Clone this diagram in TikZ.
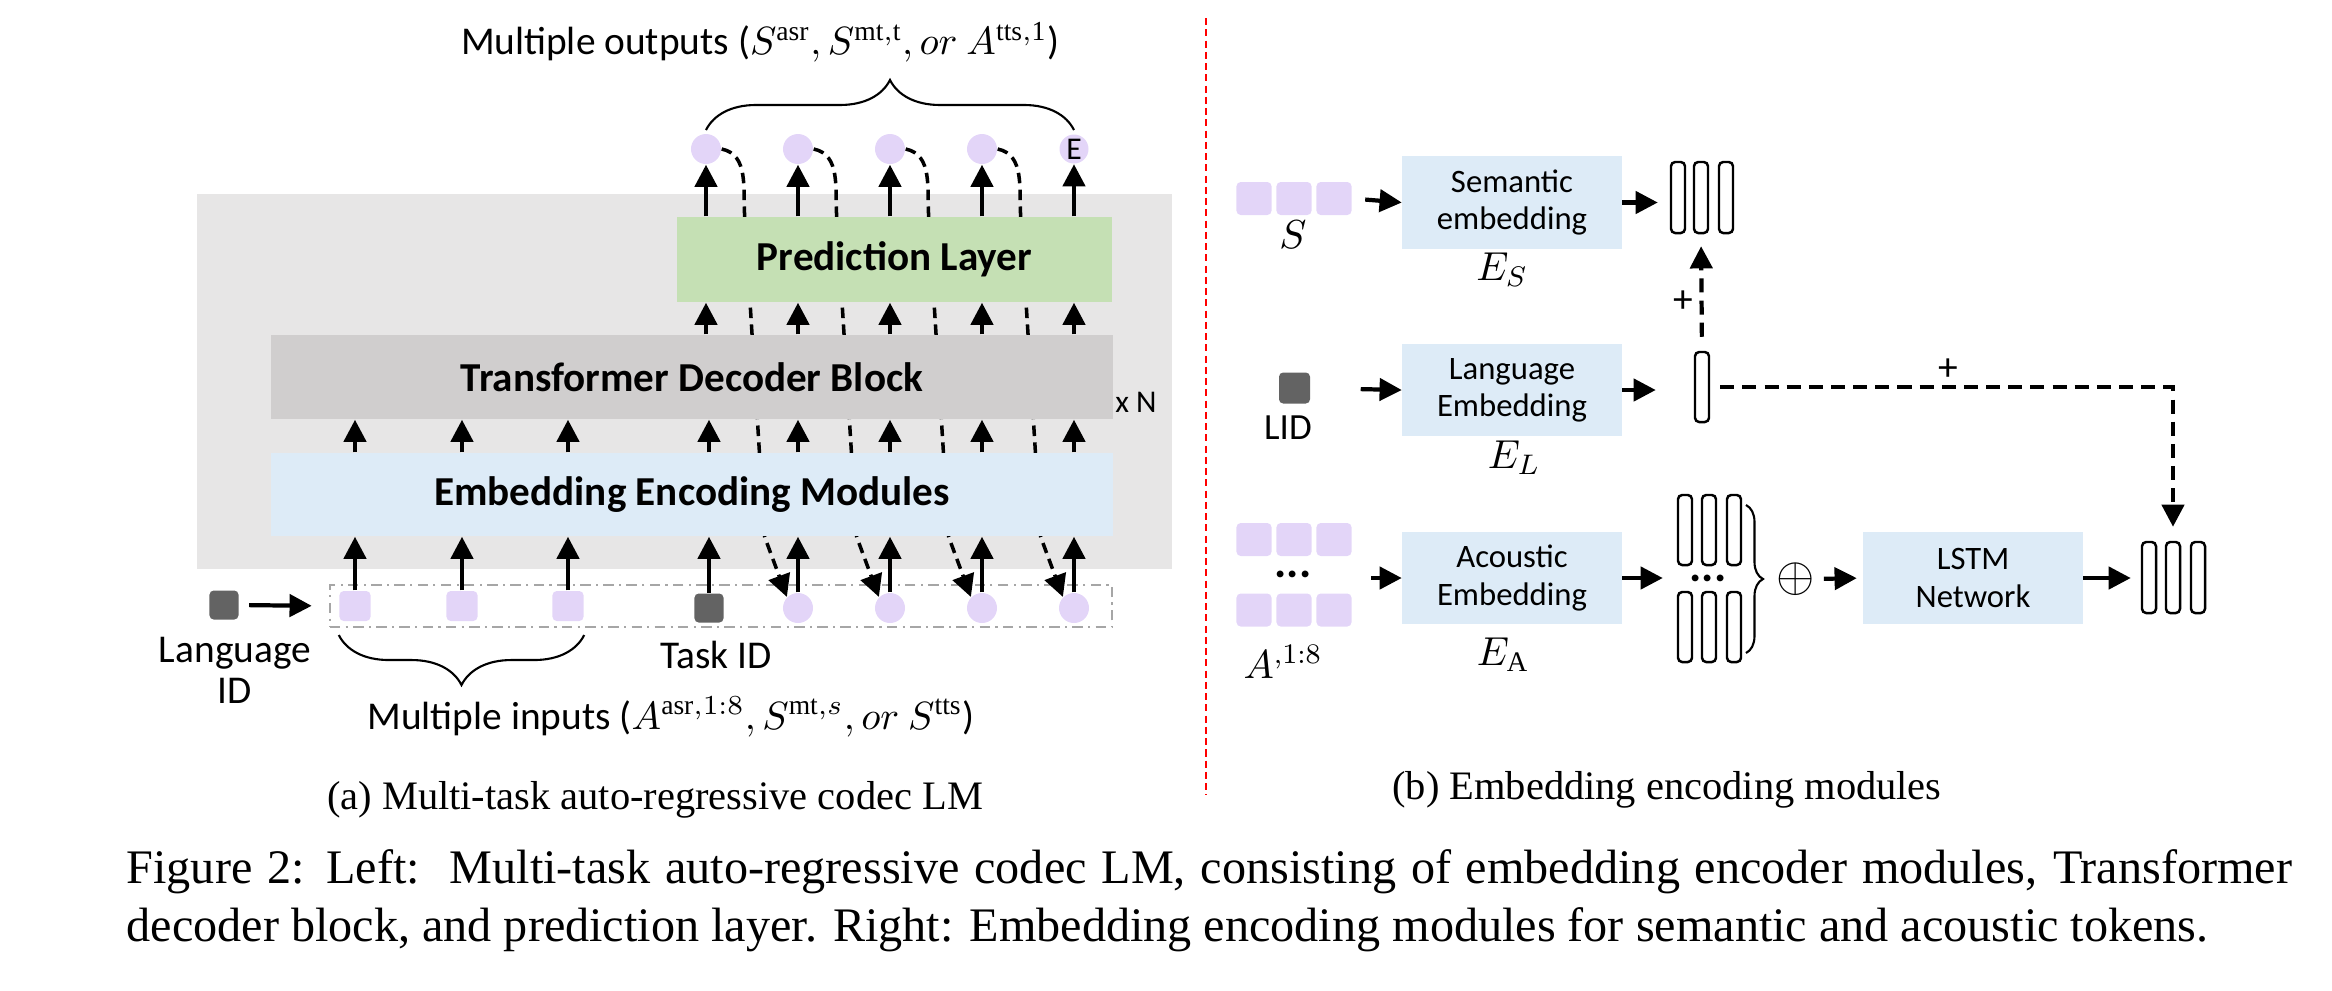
\RequirePackage{fix-cm}
\documentclass[tikz,border=0pt]{standalone}
\usepackage{fontspec}
\setmainfont{Liberation Serif}
\newfontfamily\diagfont{Carlito}
\usetikzlibrary{arrows.meta,decorations.pathreplacing}
\definecolor{tokpurple}{HTML}{E3D5F8}
\definecolor{iddark}{HTML}{636363}
\definecolor{bggrey}{HTML}{E7E6E6}
\definecolor{predgreen}{HTML}{C5E0B4}
\definecolor{decgrey}{HTML}{D0CECE}
\definecolor{embblue}{HTML}{DDEBF7}
\definecolor{boxline}{HTML}{A6A6A6}

\begin{document}
\begin{tikzpicture}[x=0.01cm, y=-0.01cm,
	arr/.style={-{Triangle[length=6.3pt,width=6.3pt]}, line width=1.2pt},
	fb/.style={-{Triangle[length=6.3pt,width=6.3pt]}, line width=1pt, dash pattern=on 3pt off 1.8pt},
	dsh/.style={dash pattern=on 4pt off 2.3pt},
	layerbox/.style={fill=#1, minimum height=0.84cm, inner sep=0pt, font=\diagfont\bfseries\fontsize{11.7}{14}\selectfont},
	tok/.style={fill=tokpurple, rounded corners=1.2pt, minimum width=0.31cm, minimum height=0.30cm, inner sep=0pt},
	idtok/.style={fill=iddark, rounded corners=1.2pt, minimum size=0.29cm, inner sep=0pt},
	ctok/.style={circle, fill=tokpurple, minimum size=0.30cm, inner sep=0pt},
	lbl/.style={font=\diagfont\fontsize{11.2}{11.7}\selectfont, inner sep=0pt, align=center},
	mlbl/.style={font=\fontsize{11.5}{13}\selectfont, inner sep=0pt},
	embox/.style={fill=embblue, minimum width=2.19cm, minimum height=0.92cm, align=center, inner sep=0pt, font=\diagfont\fontsize{9.3}{10.6}\selectfont},
	vec/.style={draw, line width=0.7pt, rounded corners=1.2pt, minimum width=0.14cm, minimum height=0.70cm, inner sep=0pt},
	capfont/.style={font=\fontsize{13.7}{16}\selectfont, inner sep=0pt}]
\useasboundingbox (0,0) rectangle (2332,990);

%% (a) multi-task codec LM
\fill[bggrey] (197,194) rectangle (1172,569);
\foreach \k/\x in {0/706,1/798,2/890,3/982}
	\node[ctok] (out\k) at (\x,149) {};
\node[ctok, minimum size=0.29cm, font=\diagfont\fontsize{9}{9}\selectfont] (out4) at (1074,149) {E};
\node[draw=boxline, line width=0.6pt, dash pattern=on 3pt off 1.5pt on 0.6pt off 1.5pt, minimum width=7.82cm, minimum height=0.42cm, inner sep=0pt] (inbox) at (721,606) {};
\node[idtok] (lid) at (224,605) {};
\foreach \k/\x in {1/355,2/462,3/568}
	\node[tok] (sq\k) at (\x,606) {};
\node[idtok] (task) at (709,608) {};
\foreach \k/\x in {1/798,2/890,3/982,4/1074}
	\node[ctok] (in\k) at (\x,608) {};
% fed back outputs (behind the blocks)
\foreach \k/\j in {0/1,1/2,2/3,3/4}
	\draw[fb] (out\k.east) to[out=-12, in=94] ++(23,68) -- ++(20,320) -- (in\j.135);

\node[layerbox=predgreen, minimum width=4.35cm, minimum height=0.85cm] (pred) at (894.5,259.5) {Prediction Layer};
\node[layerbox=decgrey, minimum width=8.42cm] (dec) at (692,377) {Transformer Decoder Block};
\node[layerbox=embblue, minimum width=8.42cm, minimum height=0.83cm] (emb) at (692,494.5) {Embedding Encoding Modules};

\foreach \n in {sq1,sq2,sq3,task,in1,in2,in3,in4}{
	\draw[arr] (\n.north) -- (\n.north |- emb.south);
	\draw[arr] (emb.north -| \n) -- (dec.south -| \n);
}
\foreach \n in {out0,out1,out2,out3,out4}{
	\draw[arr] (dec.north -| \n) -- (pred.south -| \n);
	\draw[arr] (pred.north -| \n) -- (\n.south);
}
\draw[arr, shorten <=0.1cm, shorten >=0.17cm] (lid.east) -- (inbox.west);

\draw[decorate, decoration={brace, amplitude=0.5cm}, line width=0.6pt] (out0.north |- 0,130) -- (out4.north |- 0,130);
\draw[decorate, decoration={brace, amplitude=0.5cm}, line width=0.6pt] (sq3.east |- 0,635) -- (sq1.west |- 0,635);

\node[lbl] (outlbl) at (760,42) {Multiple outputs ($S^{\mathrm{asr}}, S^{\mathrm{mt,t}}, or\ A^{\mathrm{tts,1}}$)};
\node[lbl] (inlbl) at (671,717) {Multiple inputs ($A^{\mathrm{asr},1:8}, S^{\mathrm{mt},s}, or\ S^{\mathrm{tts}}$)};
\node[lbl] (tasklbl) at (716,655) {Task ID};
\node[lbl] (lidlbl) at (235,670) {Language\\ID};
\node[lbl, font=\diagfont\fontsize{9}{9}\selectfont] (xn) at (1136,402) {x N};

\node[capfont, font=\fontsize{11.5}{13}\selectfont] (capa) at (655,800) {(a) Multi-task auto-regressive codec LM};

%% divider
\draw[red, line width=0.5pt, dash pattern=on 2pt off 1.2pt] (1206,18) -- (1206,795);

%% (b) embedding encoding modules
\foreach \k/\x in {1/1254,2/1294,3/1334}{
	\node[tok, minimum width=0.35cm, minimum height=0.33cm] (s\k) at (\x,198.5) {};
	\node[tok, minimum width=0.35cm, minimum height=0.33cm] (a\k) at (\x,539.5) {};
	\node[tok, minimum width=0.35cm, minimum height=0.33cm] (b\k) at (\x,610) {};
}
\node[font=\diagfont\bfseries\fontsize{13}{13}\selectfont, inner sep=0pt] (adots) at (1293,574) {...};
\node[mlbl] (slbl) at (1293,235) {$S$};
\node[mlbl] (albl) at (1283,662) {$A^{,1:8}$};
\node[idtok, minimum size=0.31cm] (lidb) at (1294.5,388) {};
\node[lbl, font=\diagfont\fontsize{10.5}{11}\selectfont] (lidblbl) at (1288,428) {LID};

\node[embox, minimum height=0.93cm] (sem) at (1512,202.5) {Semantic\\embedding};
\node[embox] (lang) at (1512,390) {Language\\Embedding};
\node[embox] (ac) at (1512,578) {Acoustic\\Embedding};
\node[embox] (lstm) at (1973,578) {LSTM\\Network};
\node[mlbl] (es) at (1502,270) {$E_S$};
\node[mlbl] (el) at (1514,458) {$E_L$};
\node[mlbl] (ea) at (1503,655) {$E_{\mathrm{A}}$};

\foreach \k/\x in {1/1678,2/1701,3/1726}
	\node[vec, minimum height=0.71cm] (sv\k) at (\x,197.5) {};
\node[vec] (lev) at (1702,387) {};
\foreach \k/\x in {1/1685,2/1709,3/1734}{
	\node[vec] (av\k) at (\x,530) {};
	\node[vec] (aw\k) at (\x,627) {};
}
\node[font=\diagfont\bfseries\fontsize{13}{13}\selectfont, inner sep=0pt] (avdots) at (1708,578) {...};
\foreach \k/\x in {1/2149,2/2173,3/2198}
	\node[vec, minimum height=0.71cm] (fv\k) at (\x,577.5) {};
\draw[decorate, decoration={brace, amplitude=0.17cm}, line width=0.6pt] (1746,505) -- (1746,653);
\node[font=\fontsize{14}{14}\selectfont, inner sep=0pt] (plus) at (1796,579) {$\oplus$};

\draw[arr, shorten <=0.13cm] (s3.east) -- (sem.west);
\draw[arr, shorten >=0.12cm] (sem.east) -- (sem.east -| sv1.west);
\draw[arr, shorten <=0.5cm] (lidb.east) -- (lang.west);
\draw[arr, shorten >=0.38cm] (lang.east) -- (lang.east -| lev.west);
\draw[arr, shorten <=0.19cm] (ac.west -| a3.east) -- (ac.west);
\draw[arr, shorten >=0.14cm] (ac.east) -- (ac.east -| av1.west);
\draw[arr, shorten <=0.08cm, shorten >=0.06cm] (plus.east) -- (lstm.west);
\draw[arr, shorten >=0.1cm] (lstm.east) -- (lstm.east -| fv1.west);
\draw[arr, dsh, shorten <=0.14cm, shorten >=0.12cm] (lev.north) -- (sv2.south);
\draw[arr, dsh, shorten <=0.1cm, shorten >=0.14cm] (lev.east) -- (lev.east -| fv2.north) -- (fv2.north);
\node[lbl] (plus1) at (1683,302) {+};
\node[lbl] (plus2) at (1948,370) {+};

\node[capfont, font=\fontsize{11.5}{13}\selectfont] (capb) at (1667,790) {(b) Embedding encoding modules};

%% figure caption
\node[capfont, anchor=west] (cap1) at (126,872) {\makebox[21.64cm][s]{Figure 2: Left:\ \ Multi-task auto-regressive codec LM, consisting of embedding encoder modules, Transformer}};
\node[capfont, anchor=west] (cap2) at (126,930) {decoder block, and prediction layer. Right: Embedding encoding modules for semantic and acoustic tokens.};
\end{tikzpicture}
\end{document}
